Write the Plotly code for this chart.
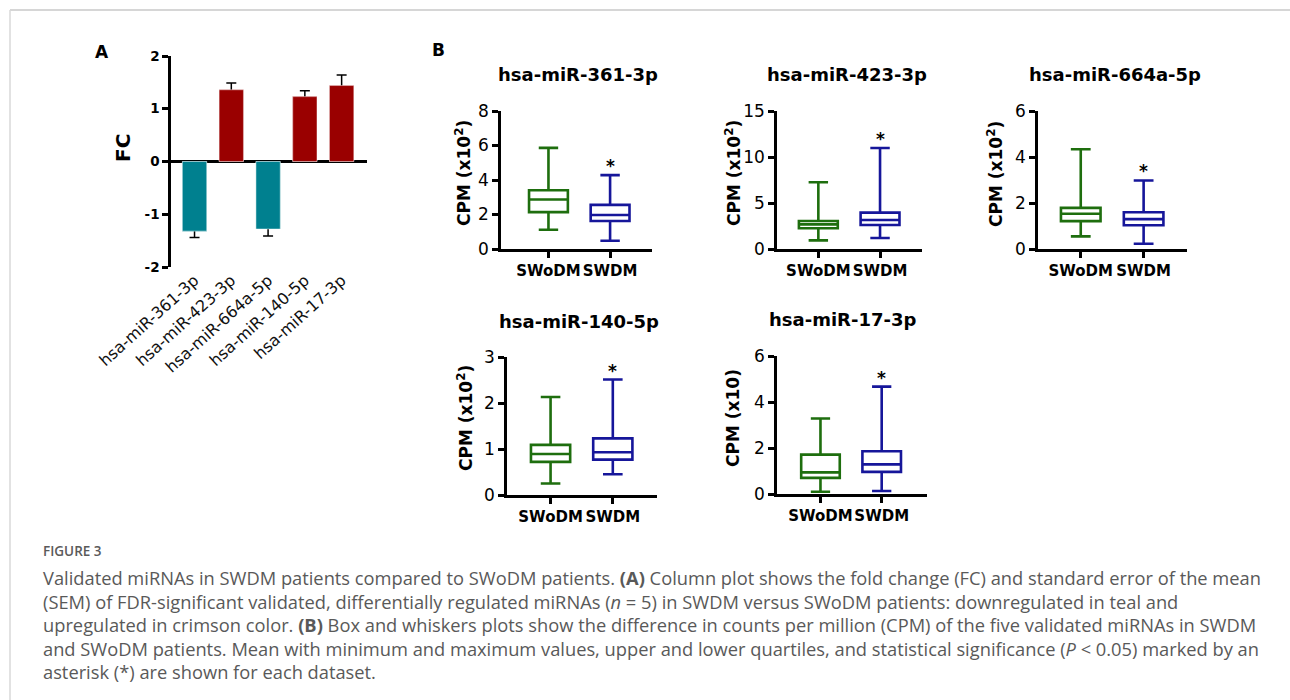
import plotly.graph_objects as go

# ---------------- data ----------------
# Panel A: fold change and SEM
mirnas = ["hsa-miR-361-3p", "hsa-miR-423-3p", "hsa-miR-664a-5p", "hsa-miR-140-5p", "hsa-miR-17-3p"]
fc = [-1.32, 1.36, -1.28, 1.23, 1.44]
sem = [0.12, 0.13, 0.13, 0.11, 0.20]
fc_ticks = [-2, -1, 0, 1, 2]

# Panel B: box & whisker summaries, per panel [SWoDM, SWDM]
groups = ["SWoDM", "SWDM"]
panel_titles = ["hsa-miR-361-3p", "hsa-miR-423-3p", "hsa-miR-664a-5p", "hsa-miR-140-5p", "hsa-miR-17-3p"]
y_titles = ["CPM (x10<sup>2</sup>)", "CPM (x10<sup>2</sup>)", "CPM (x10<sup>2</sup>)",
            "CPM (x10<sup>2</sup>)", "CPM (x10)"]
box_min = [[1.12, 0.48], [0.94, 1.20], [0.55, 0.23], [0.25, 0.45], [0.10, 0.13]]
box_q1 = [[2.14, 1.62], [2.25, 2.61], [1.21, 1.03], [0.72, 0.77], [0.70, 0.96]]
box_med = [[2.87, 1.97], [2.68, 3.15], [1.53, 1.30], [0.89, 0.93], [0.94, 1.29]]
box_q3 = [[3.41, 2.56], [3.04, 3.95], [1.79, 1.60], [1.09, 1.23], [1.71, 1.86]]
box_max = [[5.86, 4.28], [7.25, 10.98], [4.34, 2.98], [2.13, 2.51], [3.28, 4.67]]
y_max = [8, 15, 6, 3, 6]
y_dtick = [2, 5, 2, 1, 2]
sig_group = ["SWDM", "SWDM", "SWDM", "SWDM", "SWDM"]

caption_head = "FIGURE 3"
caption_lines = [
    "Validated miRNAs in SWDM patients compared to SWoDM patients. <b>(A)</b> Column plot shows the fold change (FC) and standard error of the mean",
    "(SEM) of FDR-significant validated, differentially regulated miRNAs (<i>n</i> = 5) in SWDM versus SWoDM patients: downregulated in teal and",
    "upregulated in crimson color. <b>(B)</b> Box and whiskers plots show the difference in counts per million (CPM) of the five validated miRNAs in SWDM",
    "and SWoDM patients. Mean with minimum and maximum values, upper and lower quartiles, and statistical significance (<i>P</i> &lt; 0.05) marked by an",
    "asterisk (*) are shown for each dataset.",
]

# ---------------- styling ----------------
W, H = 1290, 700
FONT = "DejaVu Sans"
CAP_FONT = "Open Sans"
TEAL = "#00808F"
CRIMSON = "#9A0000"
GREEN = "#1E6E0E"
NAVY = "#16169A"


def px(x):
    return x / W


def py(y):
    return 1 - y / H


fig = go.Figure()

# ---------- Panel A ----------
bar_colors = [TEAL if v < 0 else CRIMSON for v in fc]
# first trace carries symmetric error bars; identical second trace hides the inner half
fig.add_trace(go.Bar(
    x=mirnas, y=fc, marker=dict(color=bar_colors, line=dict(color="rgba(255,255,255,0.45)", width=1)),
    width=0.66, error_y=dict(type="data", array=sem, visible=True, color="black", thickness=1.5, width=5),
    xaxis="x", yaxis="y", showlegend=False, hoverinfo="skip"))
fig.add_trace(go.Bar(
    x=mirnas, y=fc, marker=dict(color=bar_colors, line=dict(color="rgba(255,255,255,0.45)", width=1)),
    width=0.66, xaxis="x", yaxis="y", showlegend=False, hoverinfo="skip"))

layout = dict(
    width=W, height=H, margin=dict(l=0, r=0, t=0, b=0, autoexpand=False),
    paper_bgcolor="white", plot_bgcolor="rgba(0,0,0,0)",
    barmode="overlay", boxmode="overlay", showlegend=False,
    font=dict(family=FONT, color="black"),
)
layout["xaxis"] = dict(
    domain=[px(171), px(367)], anchor="y", range=[-0.64, 4.69], type="category", automargin=False,
    showline=False, showgrid=False, zeroline=False, ticks="",
    tickangle=-42, tickfont=dict(family=FONT, size=16, color="#111"),
)
layout["yaxis"] = dict(
    domain=[py(267), py(56)], anchor="x", range=[-2, 2], tickvals=fc_ticks,
    ticktext=[str(t) for t in fc_ticks], automargin=False,
    showline=True, linecolor="black", linewidth=2.5, ticks="outside", ticklen=6, tickwidth=2.5,
    tickcolor="black", showgrid=False, zeroline=True, zerolinecolor="black", zerolinewidth=2.5,
    tickfont=dict(family=FONT, size=13.5, weight="bold"),
)

# ---------- Panel B ----------
# plot-area rectangles (x0, x1, ytop, ybottom) in pixels and x ranges
areas = [(501, 652, 111, 249), (777, 922, 111, 249), (1038, 1187, 111, 249),
         (507, 657, 357, 495), (777, 927, 356, 494)]
xranges = [[-0.77, 1.68], [-0.67, 1.68], [-0.68, 1.69], [-0.70, 1.71], [-0.71, 1.74]]
title_pos = [(578, 74), (847, 74), (1115, 74), (579, 321), (842, 320)]
ytitle_pos = [(463, 173), (733, 173), (995, 174), (465, 418), (733, 418)]
colors = [GREEN, NAVY]

annotations = []
for i in range(5):
    ax = str(i + 2)
    for g in range(2):
        fig.add_trace(go.Box(
            x=[groups[g]], q1=[box_q1[i][g]], median=[box_med[i][g]], q3=[box_q3[i][g]],
            lowerfence=[box_min[i][g]], upperfence=[box_max[i][g]],
            width=0.63, whiskerwidth=0.5, line=dict(color=colors[g], width=2.6),
            fillcolor="rgba(0,0,0,0)", boxpoints=False,
            xaxis="x" + ax, yaxis="y" + ax, showlegend=False, hoverinfo="skip"))
    x0, x1, yt, yb = areas[i]
    layout["xaxis" + ax] = dict(
        domain=[px(x0), px(x1)], anchor="y" + ax, range=xranges[i], type="category",
        categoryorder="array", categoryarray=groups,
        automargin=False, tickangle=0,
        showline=True, linecolor="black", linewidth=2.5, ticks="outside", ticklen=6,
        tickwidth=2.5, tickcolor="black", showgrid=False, zeroline=False,
        tickfont=dict(family=FONT, size=15, weight="bold"),
    )
    layout["yaxis" + ax] = dict(
        domain=[py(yb), py(yt)], anchor="x" + ax, range=[0, y_max[i]], dtick=y_dtick[i],
        automargin=False,
        showline=True, linecolor="black", linewidth=2.5, ticks="outside", ticklen=6,
        tickwidth=2.5, tickcolor="black", showgrid=False, zeroline=False,
        tickfont=dict(family=FONT, size=17),
    )
    tx, ty = title_pos[i]
    annotations.append(dict(text=panel_titles[i], x=px(tx), y=py(ty), xref="paper", yref="paper",
                            showarrow=False, xanchor="center", yanchor="middle",
                            font=dict(family=FONT, size=18, weight="bold")))
    yx, yy = ytitle_pos[i]
    annotations.append(dict(text=y_titles[i], x=px(yx), y=py(yy), xref="paper", yref="paper",
                            showarrow=False, xanchor="center", yanchor="middle", textangle=-90,
                            font=dict(family=FONT, size=17, weight="bold")))
    sg = groups.index(sig_group[i])
    annotations.append(dict(text="*", x=sig_group[i], y=box_max[i][sg], xref="x" + ax, yref="y" + ax,
                            showarrow=False, xanchor="center", yanchor="middle", yshift=9,
                            font=dict(family=FONT, size=17, weight="bold")))

# Panel A labels
annotations.append(dict(text="FC", x=px(123), y=py(148), xref="paper", yref="paper", showarrow=False,
                        textangle=-90, xanchor="center", yanchor="middle",
                        font=dict(family=FONT, size=20, weight="bold")))
annotations.append(dict(text="A", x=px(102), y=py(52), xref="paper", yref="paper", showarrow=False,
                        xanchor="center", yanchor="middle", font=dict(family=FONT, size=17, weight="bold")))
annotations.append(dict(text="B", x=px(438), y=py(50), xref="paper", yref="paper", showarrow=False,
                        xanchor="center", yanchor="middle", font=dict(family=FONT, size=17, weight="bold")))

# caption
annotations.append(dict(text=caption_head, x=px(41), y=py(551), xref="paper", yref="paper",
                        showarrow=False, xanchor="left", yanchor="middle",
                        font=dict(family=CAP_FONT, size=13.5, color="#5a5a5a", weight=600)))
cap_y = [577, 601, 624, 648, 671]
for line, yy in zip(caption_lines, cap_y):
    annotations.append(dict(text=line, x=px(41), y=py(yy), xref="paper", yref="paper",
                            showarrow=False, xanchor="left", yanchor="middle",
                            font=dict(family=CAP_FONT, size=18.3, color="#595959")))

layout["annotations"] = annotations
layout["shapes"] = [
    dict(type="line", xref="paper", yref="paper", x0=px(10), x1=1, y0=py(10), y1=py(10),
         line=dict(color="#c8c8c8", width=1.5)),
    dict(type="line", xref="paper", yref="paper", x0=px(10), x1=px(10), y0=py(10), y1=0,
         line=dict(color="#d8d8d8", width=1.5)),
]

fig.update_layout(**layout)
fig.write_html("out.html", config={"displayModeBar": False},
               post_script="document.body.style.margin='0';")
